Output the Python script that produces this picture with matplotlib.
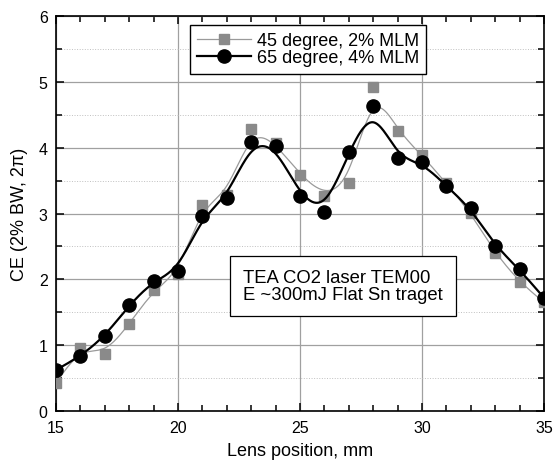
import numpy as np
import matplotlib.pyplot as plt
from matplotlib.lines import Line2D
from matplotlib.ticker import MultipleLocator

plt.rcParams['font.family'] = ['Liberation Sans', 'DejaVu Sans']

# lens position scan, mm
lens_pos = np.arange(15, 36)
# conversion efficiency, %
ce_45 = [0.42, 0.96, 0.86, 1.32, 1.84, 2.08, 3.13, 3.28, 4.29, 4.07, 3.59,
         3.27, 3.46, 4.93, 4.26, 3.89, 3.46, 3.01, 2.40, 1.96, 1.65]
ce_65 = [0.62, 0.83, 1.13, 1.61, 1.98, 2.13, 2.97, 3.23, 4.09, 4.03, 3.27,
         3.02, 3.94, 4.64, 3.84, 3.78, 3.42, 3.08, 2.51, 2.15, 1.72]
labels = ['45 degree, 2% MLM', '65 degree, 4% MLM']
note = 'TEA CO2 laser TEM00\nE ~300mJ Flat Sn traget'


def bspline(x, y, n=40):
    # uniform cubic B-spline, ends padded by reflection so the curve hits the end points
    p = np.column_stack([x, y]).astype(float)
    p = np.vstack([2 * p[0] - p[1], p, 2 * p[-1] - p[-2]])
    t = np.linspace(0, 1, n, endpoint=False)
    b0 = (1 - t) ** 3 / 6
    b1 = (3 * t**3 - 6 * t**2 + 4) / 6
    b2 = (-3 * t**3 + 3 * t**2 + 3 * t + 1) / 6
    b3 = t**3 / 6
    out = []
    for i in range(len(p) - 3):
        seg = (np.outer(b0, p[i]) + np.outer(b1, p[i + 1])
               + np.outer(b2, p[i + 2]) + np.outer(b3, p[i + 3]))
        out.append(seg)
    out.append(p[-2][None, :])
    out = np.vstack(out)
    return out[:, 0], out[:, 1]


fig = plt.figure(figsize=(5.55, 4.64), dpi=100)
ax = fig.add_axes([0.101, 0.1127, 0.879, 0.8496])

gray = '#8a8a8a'
xs, ys = bspline(lens_pos, ce_45)
ax.plot(xs, ys, color='#9a9a9a', lw=0.9, zorder=3)
ax.plot(lens_pos, ce_45, ls='none', marker='s', ms=7.5, mfc=gray, mec=gray, zorder=4)

xs, ys = bspline(lens_pos, ce_65)
ax.plot(xs, ys, color='black', lw=1.6, zorder=5)
ax.plot(lens_pos, ce_65, ls='none', marker='o', ms=9.5, mfc='black', mec='black', zorder=6)

ax.set_xlim(15, 35)
ax.set_ylim(0, 6)
ax.xaxis.set_major_locator(MultipleLocator(5))
ax.xaxis.set_minor_locator(MultipleLocator(1))
ax.yaxis.set_major_locator(MultipleLocator(1))
ax.yaxis.set_minor_locator(MultipleLocator(0.5))
ax.tick_params(which='both', direction='in', top=True, right=True, width=1.1, labelsize=11.5)
ax.tick_params(which='major', length=6)
ax.tick_params(which='minor', length=4)
ax.tick_params(axis='x', which='major', pad=7)
ax.tick_params(axis='y', which='major', pad=6)
ax.grid(which='major', color='#a0a0a0', lw=0.9)
ax.grid(which='minor', axis='y', color='#c0c0c0', lw=0.7, ls=':')
ax.set_axisbelow(True)
for s in ax.spines.values():
    s.set_linewidth(1.2)

ax.set_xlabel('Lens position, mm', fontsize=13, labelpad=5)
ax.set_ylabel('CE (2% BW, 2π)', fontsize=13, labelpad=8)

handles = [
    Line2D([], [], color='#9a9a9a', lw=0.9, marker='s', ms=7.5, mfc=gray, mec=gray),
    Line2D([], [], color='black', lw=1.6, marker='o', ms=9.5, mfc='black', mec='black'),
]
leg = ax.legend(handles, labels, loc='upper left', bbox_to_anchor=(0.274, 0.978),
                borderaxespad=0, fontsize=13, handlelength=3.0, handletextpad=0.3,
                borderpad=0.4, labelspacing=0.0, fancybox=False, framealpha=1,
                edgecolor='black')
leg.get_frame().set_linewidth(1.0)

ax.text(0.383, 0.316, note, transform=ax.transAxes, fontsize=13.3, va='center',
        ha='left', linespacing=0.95, zorder=7,
        bbox=dict(boxstyle='square,pad=0.72', fc='white', ec='black', lw=0.9))

fig.savefig('out.png', dpi=100)
